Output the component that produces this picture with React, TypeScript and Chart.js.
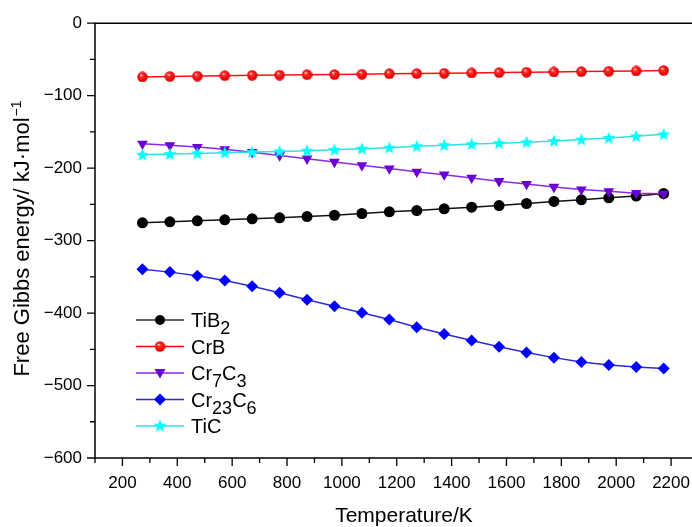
import React, { useEffect, useRef } from 'react';
import { Chart, registerables } from 'chart.js';

Chart.register(...registerables);

const temperatures = [273, 373, 473, 573, 673, 773, 873, 973, 1073, 1173, 1273, 1373, 1473, 1573, 1673, 1773, 1873, 1973, 2073, 2173];
const tib2 = [-275.5, -274.1, -272.7, -271.3, -269.9, -268.6, -266.8, -265.0, -262.6, -260.3, -258.5, -256.2, -253.9, -251.6, -248.8, -246.0, -243.7, -240.9, -238.6, -235.0];
const crb = [-74.2, -73.4, -73.0, -72.4, -71.9, -71.5, -71.0, -70.8, -70.4, -69.8, -69.5, -69.1, -68.7, -68.2, -67.6, -67.3, -66.8, -66.3, -65.9, -65.2];
const cr7c3 = [-166.5, -168.5, -171, -174, -178, -182.5, -187, -191.5, -196, -200.5, -205, -209, -213.5, -218, -222, -226, -229.5, -232, -234.5, -235.5];
const cr23c6 = [-339.5, -343.5, -348.5, -355, -363, -372, -381.5, -390.5, -399.5, -409, -419.5, -429, -438, -446.5, -454.5, -461.5, -467.5, -471.5, -474.5, -476.5];
const tic = [-181.5, -180.6, -179.7, -178.7, -177.9, -176.9, -176.0, -174.6, -173.2, -171.8, -169.8, -168.3, -166.8, -165.5, -164.2, -162.5, -160.6, -158.4, -156.0, -153.4];

const xTickValues = [200, 400, 600, 800, 1000, 1200, 1400, 1600, 1800, 2000, 2200];
const xMinorValues = [100, 300, 500, 700, 900, 1100, 1300, 1500, 1700, 1900, 2100, 2300];
const yTickValues = [0, -100, -200, -300, -400, -500, -600];
const yMinorValues = [-50, -150, -250, -350, -450, -550];

const legendNames: [string, boolean][][] = [
  [['TiB', false], ['2', true]],
  [['CrB', false]],
  [['Cr', false], ['7', true], ['C', false], ['3', true]],
  [['Cr', false], ['23', true], ['C', false], ['6', true]],
  [['TiC', false]],
];

const xTitle = 'Temperature/K';
const yTitleMain = 'Free Gibbs energy/ kJ·mol';
const yTitleSup = '−1';

const FONT = '"Liberation Sans", Arial, sans-serif';

function makeBall(): HTMLCanvasElement {
  const c = document.createElement('canvas');
  c.width = 11; c.height = 11;
  const g = c.getContext('2d')!;
  const grad = g.createRadialGradient(4, 3.5, 0.3, 5.5, 5.5, 5.5);
  grad.addColorStop(0, '#ffe0e0');
  grad.addColorStop(0.25, '#ff3030');
  grad.addColorStop(0.8, '#ee0000');
  grad.addColorStop(1, '#b00000');
  g.fillStyle = grad;
  g.beginPath();
  g.arc(5.5, 5.5, 5.2, 0, Math.PI * 2);
  g.fill();
  return c;
}

function makeStar(): HTMLCanvasElement {
  const c = document.createElement('canvas');
  c.width = 14; c.height = 14;
  const g = c.getContext('2d')!;
  g.fillStyle = '#00ffff';
  g.beginPath();
  const R = 6.8, r = 2.9, cx = 7, cy = 7.4;
  for (let i = 0; i < 10; i++) {
    const rad = i % 2 === 0 ? R : r;
    const a = -Math.PI / 2 + (i * Math.PI) / 5;
    const px = cx + rad * Math.cos(a);
    const py = cy + rad * Math.sin(a);
    if (i === 0) g.moveTo(px, py); else g.lineTo(px, py);
  }
  g.closePath();
  g.fill();
  return c;
}

export default function App() {
  const ref = useRef<HTMLCanvasElement>(null);

  useEffect(() => {
    const canvas = ref.current;
    if (!canvas) return;
    document.body.style.margin = '0';
    const ball = makeBall();
    const star = makeStar();

    const frame = {
      id: 'frame',
      afterDraw(chart: any) {
        const ctx = chart.ctx;
        const { left, right, top, bottom } = chart.chartArea;
        const xs = chart.scales.x;
        const ys = chart.scales.y;
        ctx.save();
        ctx.strokeStyle = '#000';
        ctx.lineWidth = 1.5;
        ctx.beginPath();
        ctx.moveTo(right + 20, top); ctx.lineTo(left, top); ctx.lineTo(left, bottom); ctx.lineTo(right + 20, bottom);
        ctx.stroke();
        ctx.lineWidth = 1.3;
        ctx.beginPath();
        for (const v of xTickValues) {
          const p = xs.getPixelForValue(v);
          ctx.moveTo(p, bottom); ctx.lineTo(p, bottom + 8);
        }
        for (const v of xMinorValues) {
          const p = xs.getPixelForValue(v);
          ctx.moveTo(p, bottom); ctx.lineTo(p, bottom + 5);
        }
        for (const v of yTickValues) {
          const p = ys.getPixelForValue(v);
          ctx.moveTo(left, p); ctx.lineTo(left - 8, p);
        }
        for (const v of yMinorValues) {
          const p = ys.getPixelForValue(v);
          ctx.moveTo(left, p); ctx.lineTo(left - 5, p);
        }
        ctx.stroke();

        // axis titles
        ctx.fillStyle = '#000';
        ctx.textBaseline = 'alphabetic';
        ctx.font = `21px ${FONT}`;
        ctx.textAlign = 'center';
        ctx.fillText(xTitle, 404, 522);
        ctx.textAlign = 'left';
        ctx.save();
        ctx.translate(29, 239);
        ctx.rotate(-Math.PI / 2);
        ctx.font = `22px ${FONT}`;
        const w1 = ctx.measureText(yTitleMain).width;
        ctx.font = `14px ${FONT}`;
        const w2 = ctx.measureText(yTitleSup).width;
        const start = -(w1 + w2) / 2;
        ctx.font = `22px ${FONT}`;
        ctx.fillText(yTitleMain, start, 0);
        ctx.font = `14px ${FONT}`;
        ctx.fillText(yTitleSup, start + w1 + 1, -8);
        ctx.restore();

        // legend
        const rows = [320, 346.5, 373, 399.5, 426];
        const lineColors = ['#333333', '#ff0000', '#8a2be2', '#2b2bd9', '#33e0e0'];
        rows.forEach((y, i) => {
          ctx.strokeStyle = lineColors[i];
          ctx.lineWidth = 1.5;
          ctx.beginPath();
          ctx.moveTo(136, y); ctx.lineTo(184, y);
          ctx.stroke();
          const mx = 160;
          if (i === 0) {
            ctx.fillStyle = '#000';
            ctx.beginPath(); ctx.arc(mx, y, 5, 0, Math.PI * 2); ctx.fill();
          } else if (i === 1) {
            ctx.drawImage(ball, mx - 5.5, y - 5.5);
          } else if (i === 2) {
            ctx.fillStyle = '#6a00d5';
            ctx.beginPath();
            ctx.moveTo(mx - 5.5, y - 4); ctx.lineTo(mx + 5.5, y - 4); ctx.lineTo(mx, y + 5.5);
            ctx.closePath(); ctx.fill();
          } else if (i === 3) {
            ctx.fillStyle = '#0000ff';
            ctx.beginPath();
            ctx.moveTo(mx, y - 6); ctx.lineTo(mx + 6, y); ctx.lineTo(mx, y + 6); ctx.lineTo(mx - 6, y);
            ctx.closePath(); ctx.fill();
          } else {
            ctx.drawImage(star, mx - 7, y - 7.4);
          }
          ctx.fillStyle = '#000';
          let cx = 191;
          for (const [t, sub] of legendNames[i]) {
            ctx.font = `${sub ? 18 : 20}px ${FONT}`;
            ctx.fillText(t, cx, sub ? y + 14 : y + 7);
            cx += ctx.measureText(t).width;
          }
        });
        ctx.restore();
      },
    };

    const mk = (data: number[]) => temperatures.map((t, i) => ({ x: t, y: data[i] }));

    const chart = new Chart(canvas, {
      type: 'line',
      data: {
        datasets: [
          {
            label: 'TiB2', data: mk(tib2), borderColor: '#111111', backgroundColor: '#000000',
            pointBackgroundColor: '#000000', pointBorderWidth: 0, pointRadius: 5.5, pointStyle: 'circle', borderWidth: 1.5, order: 4,
          },
          {
            label: 'CrB', data: mk(crb), borderColor: '#ff1010', backgroundColor: '#ff0000',
            pointStyle: ball as any, pointRadius: 5.5, borderWidth: 1.5, order: 3,
          },
          {
            label: 'Cr7C3', data: mk(cr7c3), borderColor: '#8a2be2', backgroundColor: '#6a00d5',
            pointBackgroundColor: '#6a00d5', pointBorderWidth: 0, pointRadius: 6.2, pointStyle: 'triangle', pointRotation: 180, borderWidth: 1.5, order: 2,
          },
          {
            label: 'Cr23C6', data: mk(cr23c6), borderColor: '#2b2bd9', backgroundColor: '#0000ff',
            pointBackgroundColor: '#0000ff', pointBorderWidth: 0, pointRadius: 6, pointStyle: 'rectRot', borderWidth: 1.5, order: 1,
          },
          {
            label: 'TiC', data: mk(tic), borderColor: '#33e0e0', backgroundColor: '#00ffff',
            pointStyle: star as any, pointRadius: 6, borderWidth: 1.5, order: 0,
          },
        ],
      },
      options: {
        responsive: false,
        animation: false,
        devicePixelRatio: 1,
        layout: { padding: { top: 23, right: 2, left: 0, bottom: 0 } },
        plugins: { legend: { display: false }, tooltip: { enabled: false } },
        elements: { line: { tension: 0 } },
        scales: {
          x: {
            type: 'linear',
            min: 100,
            max: 2300,
            afterBuildTicks: (s: any) => { s.ticks = xTickValues.map((v) => ({ value: v })); },
            afterFit: (s: any) => { s.height = 69; },
            grid: { display: false, drawTicks: false },
            border: { display: false },
            ticks: {
              color: '#000', padding: 15, maxRotation: 0, autoSkip: false,
              font: { family: FONT, size: 17 },
              callback: (v: any) => String(v),
            },
          },
          y: {
            type: 'linear',
            min: -600,
            max: 0,
            afterBuildTicks: (s: any) => { s.ticks = yTickValues.map((v) => ({ value: v })); },
            afterFit: (s: any) => { s.width = 95; },
            grid: { display: false, drawTicks: false },
            border: { display: false },
            ticks: {
              color: '#000', padding: 13, autoSkip: false,
              font: { family: FONT, size: 17 },
              callback: (v: any) => (v < 0 ? '−' + Math.abs(v) : String(v)),
            },
          },
        },
      },
      plugins: [frame],
    });
    return () => chart.destroy();
  }, []);

  return (
    <div style={{ position: 'absolute', left: 0, top: 0, width: 692, height: 527, overflow: 'hidden', background: '#fff' }}>
      <canvas ref={ref} width={706} height={527} style={{ display: 'block' }} />
    </div>
  );
}
